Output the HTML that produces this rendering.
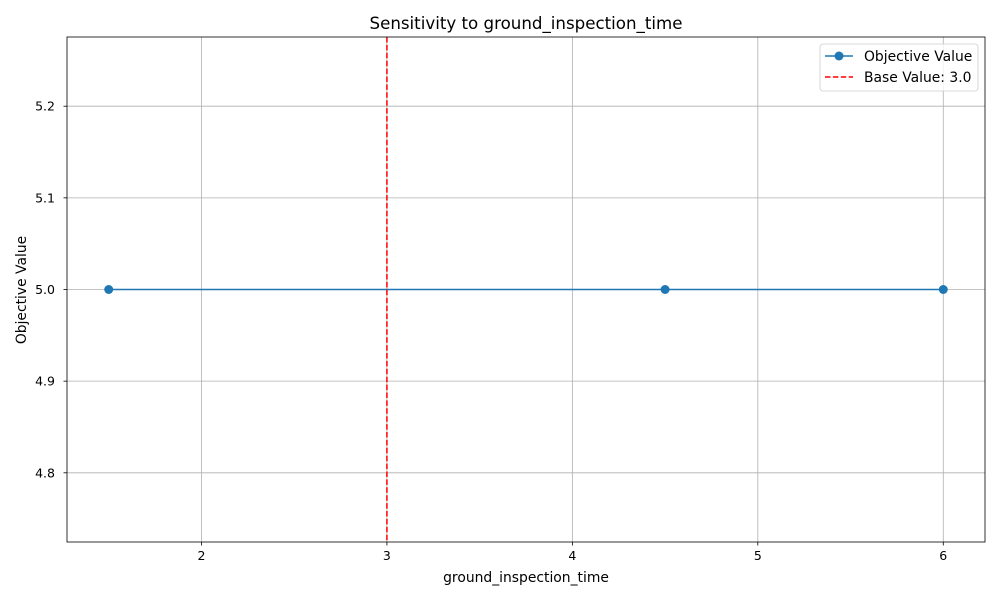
<!DOCTYPE html>
<html><head><meta charset="utf-8"><style>
body{margin:0;background:#fff;font-family:"Liberation Sans","DejaVu Sans",sans-serif;}
svg text{font-family:"DejaVu Sans","Liberation Sans",sans-serif;}
</style></head><body>
<svg id="chart" width="1000" height="600" xmlns="http://www.w3.org/2000/svg"></svg>
<script>
const xValues=[1.5,4.5,6];
const yValues=[5.0,5.0,5.0];
const xTicks=[2,3,4,5,6];
const yTicks=[4.8,4.9,5.0,5.1,5.2];
const baseValue=3.0;
const X0=67,X1=985,Y0=37,Y1=542;
const xmin=1.275,xmax=6.225,ymin=4.7245,ymax=5.2755;
const sx=v=>X0+(v-xmin)/(xmax-xmin)*(X1-X0);
const sy=v=>Y1-(v-ymin)/(ymax-ymin)*(Y1-Y0);
const svg=document.getElementById('chart');
const NS='http://www.w3.org/2000/svg';
function mk(t,a,txt){const e=document.createElementNS(NS,t);for(const k in a)e.setAttribute(k,a[k]);if(txt!==undefined)e.textContent=txt;svg.appendChild(e);return e;}
let e;
xTicks.forEach(v=>{const x=sx(v);
e=mk('line',{x1:x,x2:x,y1:Y0,y2:Y1,stroke:'#b0b0b0','stroke-width':0.8});

e=mk('line',{x1:x,x2:x,y1:Y1,y2:Y1+3.5,stroke:'#000','stroke-width':0.8});
e=mk('text',{x:x,y:Y1+18,'font-size':12.5,'text-anchor':'middle'},String(v));
});
yTicks.forEach(v=>{const y=sy(v);
e=mk('line',{x1:X0,x2:X1,y1:y,y2:y,stroke:'#b0b0b0','stroke-width':0.8});

e=mk('line',{x1:X0-3.5,x2:X0,y1:y,y2:y,stroke:'#000','stroke-width':0.8});
e=mk('text',{x:X0-12,y:y+4.5,'font-size':12.5,'text-anchor':'end'},v.toFixed(1));
});
e=mk('polyline',{points:xValues.map((v,i)=>sx(v)+','+sy(yValues[i])).join(' '),fill:'none',stroke:'#1f77b4','stroke-width':1.5});

xValues.forEach((v,i)=>{e=mk('circle',{cx:sx(v),cy:sy(yValues[i]),r:4.5,fill:'#1f77b4'});
});
e=mk('line',{x1:sx(baseValue),x2:sx(baseValue),y1:Y0,y2:Y1,stroke:'#ff0000','stroke-width':1.5,'stroke-dasharray':'5.5,2.4'});

e=mk('rect',{x:X0,y:Y0,width:X1-X0,height:Y1-Y0,fill:'none',stroke:'#000','stroke-width':0.8});

e=mk('text',{x:526,y:29,'font-size':16.67,'text-anchor':'middle'},'Sensitivity to ground_inspection_time');

e=mk('text',{x:526,y:582,'font-size':13.89,'text-anchor':'middle'},'ground_inspection_time');

e=mk('text',{x:26,y:290,'font-size':13.89,'text-anchor':'middle',transform:'rotate(-90 26 290)'},'Objective Value');

e=mk('rect',{x:820,y:44,width:158,height:47,rx:3,fill:'#fff','fill-opacity':0.8,stroke:'#ccc','stroke-width':0.8});

mk('line',{x1:825,x2:853,y1:56,y2:56,stroke:'#1f77b4','stroke-width':1.5});
mk('circle',{cx:839,cy:56,r:4.5,fill:'#1f77b4'});
e=mk('text',{x:864,y:61,'font-size':13.89},'Objective Value');

mk('line',{x1:825,x2:853,y1:77,y2:77,stroke:'#ff0000','stroke-width':1.5,'stroke-dasharray':'5.5,2.4'});
e=mk('text',{x:864,y:82,'font-size':13.89},'Base Value: 3.0');

</script>
</body></html>
